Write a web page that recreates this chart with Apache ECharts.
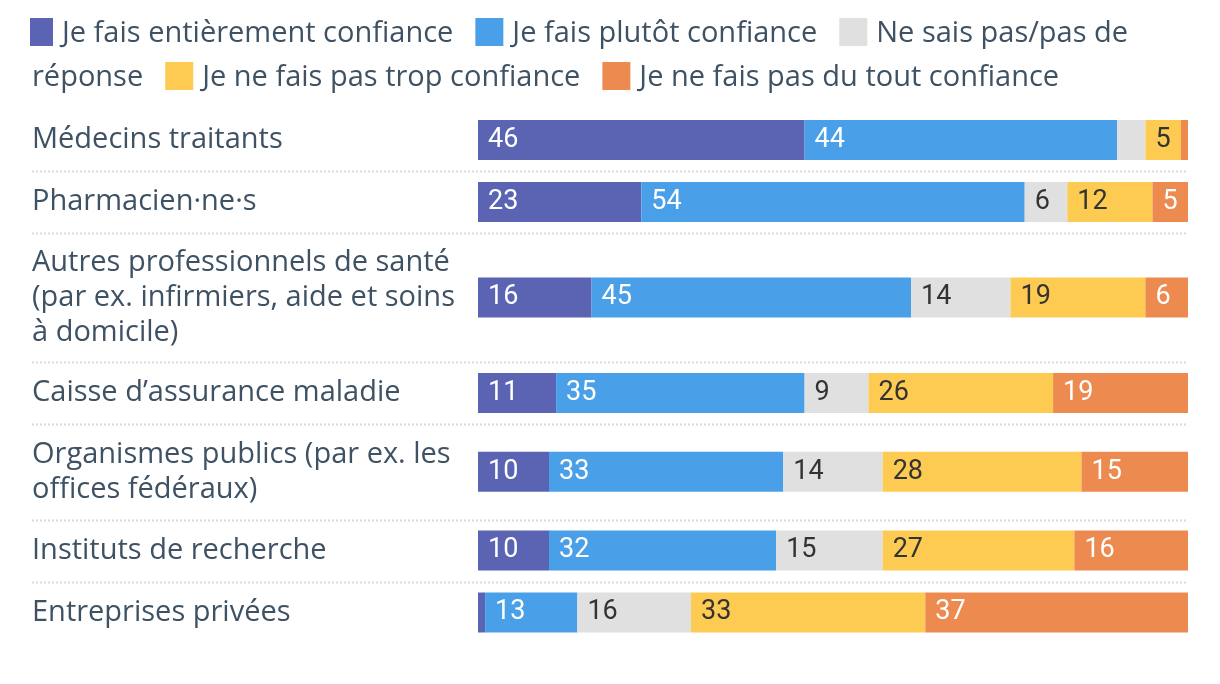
<!DOCTYPE html>
<html>
<head>
<meta charset="utf-8">
<script src="https://cdn.jsdelivr.net/npm/echarts@6/dist/echarts.min.js"></script>
<style>
html,body{margin:0;padding:0;background:#fff;}
#chart{width:1220px;height:684px;}
</style>
</head>
<body>
<div id="chart"></div>
<script>
// ---- Data ----
const categories = [
  'Médecins traitants',
  'Pharmacien·ne·s',
  'Autres professionnels de santé\n(par ex. infirmiers, aide et soins\nà domicile)',
  'Caisse d’assurance maladie',
  'Organismes publics (par ex. les\noffices fédéraux)',
  'Instituts de recherche',
  'Entreprises privées'
];
const seriesNames = [
  'Je fais entièrement confiance',
  'Je fais plutôt confiance',
  'Ne sais pas/pas de réponse',
  'Je ne fais pas trop confiance',
  'Je ne fais pas du tout confiance'
];
const entierement = [46, 23, 16, 11, 10, 10, 1];
const plutot      = [44, 54, 45, 35, 33, 32, 13];
const neSaisPas   = [4, 6, 14, 9, 14, 15, 16];
const pasTrop     = [5, 12, 19, 26, 28, 27, 33];
const pasDuTout   = [1, 5, 6, 19, 15, 16, 37];

// ---- Style ----
const values = [entierement, plutot, neSaisPas, pasTrop, pasDuTout];
const colors = ['#5a64b3', '#4aa0e8', '#e0e0e0', '#fdcb52', '#ed8a4f'];
const labelColors = ['#ffffff', '#ffffff', '#333333', '#333333', '#ffffff'];
const FONT = "'Open Sans', 'Noto Sans', sans-serif";
const NUMFONT = "Roboto, 'Open Sans', sans-serif";
const TEXT = '#3e5264';
const FS = 29;

const chartLeft = 478, chartRight = 1188, textLeft = 32;
const rowTop0 = 109, rowBase = 62, rowExtra = 33.5, barH = 40;

const chart = echarts.init(document.getElementById('chart'));

// row layout
const rows = [];
let y = rowTop0;
categories.forEach(c => {
  const n = c.split('\n').length;
  const h = rowBase + rowExtra * (n - 1);
  rows.push({ top: y, h: h, center: y + h / 2 });
  y += h;
});

const grids = [], xAxes = [], yAxes = [], series = [];
rows.forEach((r, i) => {
  grids.push({ left: chartLeft, width: chartRight - chartLeft, top: r.center - barH / 2, height: barH, containLabel: false });
  xAxes.push({ type: 'value', gridIndex: i, min: 0, max: 100, show: false });
  yAxes.push({
    type: 'category', gridIndex: i, data: [categories[i]],
    axisLine: { show: false }, axisTick: { show: false }, splitLine: { show: false },
    axisLabel: {
      align: 'left', margin: chartLeft - textLeft, color: TEXT,
      fontFamily: FONT, fontSize: FS, lineHeight: 35, padding: [5, 0, 0, 0]
    }
  });
  values.forEach((arr, s) => {
    series.push({
      type: 'bar', name: seriesNames[s], stack: 'row' + i,
      xAxisIndex: i, yAxisIndex: i, barWidth: barH,
      data: [arr[i]],
      itemStyle: { color: colors[s] },
      label: {
        show: true, position: 'insideLeft', distance: 10,
        color: labelColors[s], fontFamily: NUMFONT, fontSize: 27,
        formatter: p => (p.value >= 5 ? String(p.value) : '')
      }
    });
  });
});

// separators
const graphics = [];
rows.slice(0, -1).forEach(r => {
  const yy = Math.round(r.top + r.h) + 0.5;
  graphics.push({
    type: 'line', silent: true,
    shape: { x1: textLeft, y1: yy, x2: chartRight, y2: yy },
    style: { stroke: '#dadada', lineWidth: 2, lineDash: [2, 2] }
  });
});

// legend (flowing, word wrapped)
(function () {
  const ctx = document.createElement('canvas').getContext('2d');
  ctx.font = FS + 'px ' + FONT;
  const space = ctx.measureText(' ').width;
  const sq = 28, sqGap = 9, itemGap = 22, maxX = chartRight, lineH = 44, line0 = 32, textShift = 2;
  let x = 25, line = 0;
  const lineY = l => line0 + l * lineH;
  seriesNames.forEach((name, k) => {
    const words = name.split(' ');
    if (k > 0) x += itemGap;
    if (x + sq + sqGap + ctx.measureText(words[0]).width > maxX) { line++; x = textLeft; }
    const rx = Math.max(x, 30);
    graphics.push({ type: 'rect', silent: true, shape: { x: rx, y: lineY(line) - sq / 2, width: x + sq - rx, height: sq }, style: { fill: colors[k] } });
    x += sq + sqGap;
    let run = '', runX = x;
    const flush = () => {
      if (run) graphics.push({ type: 'text', silent: true, x: runX, y: lineY(line) + textShift, style: { text: run, fontFamily: FONT, fontSize: FS, fill: TEXT, verticalAlign: 'middle', align: 'left' } });
    };
    words.forEach(w => {
      const ww = ctx.measureText(w).width;
      const add = (run ? space : 0) + ww;
      if (run && x + add > maxX) {
        flush();
        line++; x = textLeft; runX = x; run = w; x += ww;
      } else {
        run = run ? run + ' ' + w : w; x += add;
      }
    });
    flush();
  });
})();

chart.setOption({
  animation: false,
  backgroundColor: '#ffffff',
  grid: grids, xAxis: xAxes, yAxis: yAxes, series: series,
  graphic: graphics
});
</script>
</body>
</html>
